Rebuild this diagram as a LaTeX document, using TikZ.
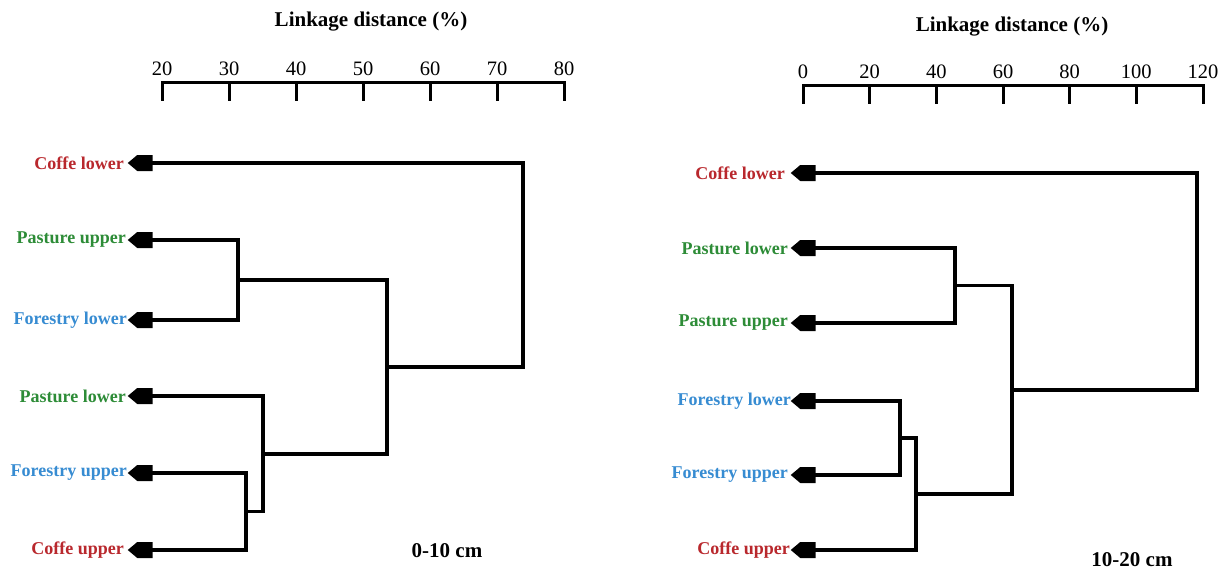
\documentclass[tikz,border=0pt]{standalone}
\usepackage{fontspec}
\setmainfont{Liberation Serif}
\usetikzlibrary{shapes.symbols}
\definecolor{cred}{RGB}{185,40,45}
\definecolor{cgreen}{RGB}{45,140,55}
\definecolor{cblue}{RGB}{55,140,210}
\tikzset{
  leaf/.style={signal, signal to=west, signal from=nowhere, fill=black, draw=none,
    signal pointer angle=80, minimum width=25pt, minimum height=16pt, inner sep=0pt},
  lab/.style={anchor=east, inner sep=0pt, font=\fontsize{18}{21}\selectfont\bfseries},
  link/.style={line width=3.9pt, line join=miter, line cap=rect},
  axis/.style={line width=3pt, line cap=rect},
  num/.style={anchor=base, inner sep=0pt, font=\fontsize{20.5}{22}\selectfont},
  ttl/.style={inner sep=0pt, font=\fontsize{21}{23}\selectfont\bfseries},
}
\begin{document}
\begin{tikzpicture}[x=1pt,y=-1pt]
\useasboundingbox[fill=white] (0,0) rectangle (1227,571);

% ---------- Left panel ----------
\node[ttl] (t1) at (371,22) {Linkage distance (\%)};
\draw[axis] (162,82) -- (564,82);
\foreach \v [count=\i from 0] in {20,30,40,50,60,70,80}{
  \draw[axis] (162+67*\i,82) -- (162+67*\i,99);
  \node[num] (ln\i) at (162+67*\i,75) {\v};
}
\node[leaf] (cl) at (145,163) {};
\node[leaf] (pu) at (145,240) {};
\node[leaf] (fl) at (145,320) {};
\node[leaf] (pl) at (145,396) {};
\node[leaf] (fu) at (145,473) {};
\node[leaf] (cu) at (145,550) {};
\node[lab, text=cred]   (lcl) at (124,163) {Coffe lower};
\node[lab, text=cgreen] (lpu) at (126,240) {Pasture upper};
\node[lab, text=cblue]  (lfl) at (127,320) {Forestry lower};
\node[lab, text=cgreen] (lpl) at (126,396) {Pasture lower};
\node[lab, text=cblue]  (lfu) at (127,473) {Forestry upper};
\node[lab, text=cred]   (lcu) at (124,550) {Coffe upper};
\coordinate (j1) at (238,280);
\coordinate (j2) at (246,511.5);
\coordinate (j3) at (263,453.75);
\coordinate (j4) at (387,367);
\coordinate (j5) at (523,265);
\draw[link] (pu.east) -| (j1) |- (fl.east);
\draw[link] (fu.east) -| (j2) |- (cu.east);
\draw[link] (pl.east) -| (j3) |- (j2);
\draw[link] (j1) -| (j4) |- (j3);
\draw[link] (cl.east) -| (j5) |- (j4);
\node[ttl] (c1) at (447,551) {0-10 cm};

% ---------- Right panel ----------
\node[ttl] (t2) at (1012,27) {Linkage distance (\%)};
\draw[axis] (803,85) -- (1203,85);
\foreach \v [count=\i from 0] in {0,20,40,60,80,100,120}{
  \draw[axis] (803+66.67*\i,85) -- (803+66.67*\i,102);
  \node[num] (rn\i) at (803+66.67*\i,78) {\v};
}
\node[leaf] (rcl) at (808,173) {};
\node[leaf] (rpl) at (808,248) {};
\node[leaf] (rpu) at (808,323) {};
\node[leaf] (rfl) at (808,401) {};
\node[leaf] (rfu) at (808,475) {};
\node[leaf] (rcu) at (808,550) {};
\node[lab, text=cred]   (rlcl) at (785,173) {Coffe lower};
\node[lab, text=cgreen] (rlpl) at (788,248) {Pasture lower};
\node[lab, text=cgreen] (rlpu) at (788,323) {Pasture upper};
\node[lab, text=cblue]  (rlfl) at (791,401) {Forestry lower};
\node[lab, text=cblue]  (rlfu) at (788,475) {Forestry upper};
\node[lab, text=cred]   (rlcu) at (790,550) {Coffe upper};
\coordinate (k1) at (955,285.5);
\coordinate (k2) at (900,438);
\coordinate (k3) at (916,494);
\coordinate (k4) at (1012,389.75);
\coordinate (k5) at (1197,281);
\draw[link] (rpl.east) -| (k1) |- (rpu.east);
\draw[link] (rfl.east) -| (k2) |- (rfu.east);
\draw[link] (k2) -| (k3) |- (rcu.east);
\draw[link] (k1) -| (k4) |- (k3);
\draw[link] (rcl.east) -| (k5) |- (k4);
\node[ttl] (c2) at (1132,560) {10-20 cm};
\end{tikzpicture}
\end{document}
